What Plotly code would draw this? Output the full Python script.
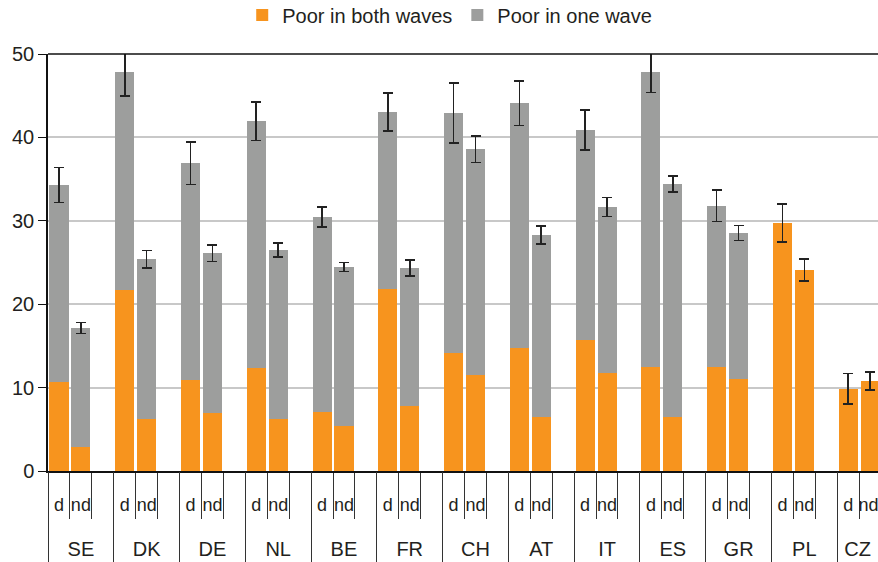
import plotly.graph_objects as go

countries = ["SE", "DK", "DE", "NL", "BE", "FR", "CH", "AT", "IT", "ES", "GR", "PL", "CZ"]
groups = ["d", "nd"]

# Poor in both waves (orange)
both_d = [10.7, 21.75, 10.95, 12.4, 7.05, 21.8, 14.1, 14.8, 15.7, 12.5, 12.5, 29.75, 9.85]
both_nd = [2.9, 6.2, 6.9, 6.2, 5.45, 7.85, 11.5, 6.45, 11.75, 6.45, 11.0, 24.1, 10.8]
# Poor in one wave (grey, stacked on top)
one_d = [23.6, 26.05, 25.95, 29.55, 23.4, 21.25, 28.8, 29.3, 25.2, 35.3, 19.3, 0.0, 0.0]
one_nd = [14.25, 19.2, 19.2, 20.3, 19.0, 16.5, 27.1, 21.85, 19.9, 27.95, 17.55, 0.0, 0.0]
# error half-widths on total
err_d = [2.1, 2.8, 2.55, 2.3, 1.2, 2.3, 3.6, 2.65, 2.4, 2.4, 1.9, 2.3, 1.85]
err_nd = [0.65, 1.05, 1.0, 0.85, 0.55, 0.95, 1.6, 1.1, 1.15, 0.95, 0.9, 1.35, 1.1]

y_ticks = [0, 10, 20, 30, 40, 50]

ORANGE = "#F7941E"
GREY = "#9D9E9D"
FONT = "Liberation Sans, Arial, sans-serif"
TXT = "#231F20"

xr = [-0.5, 37.36]

def visible_center(a, b):
    return (max(a, xr[0]) + min(b, xr[1])) / 2

# slot layout: each country takes 3 slots (d, nd, gap)
xs, both, one, errs, lbl_vals, lbl_text = [], [], [], [], [], []
for k, c in enumerate(countries):
    for j, (b, o, e) in enumerate([(both_d[k], one_d[k], err_d[k]), (both_nd[k], one_nd[k], err_nd[k])]):
        xs.append(3 * k + j)
        both.append(b)
        one.append(o)
        errs.append(e)
        lbl_vals.append(visible_center(3 * k + j - 0.5, 3 * k + j + 0.5))
        lbl_text.append(groups[j])

slot_bounds = [3 * k + s - 0.5 for k in range(len(countries)) for s in range(3)]
country_bounds = [3 * k - 0.5 for k in range(len(countries) + 1)]
# country label centred on the visible part of its span
country_centers = [visible_center(3 * k - 0.5, 3 * k + 2.5) for k in range(len(countries))]

fig = go.Figure()
fig.add_trace(go.Bar(x=xs, y=both, name="Poor in both waves", marker=dict(color=ORANGE, line_width=0),
                     width=0.87))
fig.add_trace(go.Bar(x=xs, y=one, name="Poor in one wave", marker=dict(color=GREY, line_width=0),
                     width=0.87,
                     error_y=dict(type="data", array=errs, visible=True, color="#222", thickness=1.6, width=5)))

fig.update_layout(
    barmode="stack",
    width=878, height=562,
    margin=dict(l=48, r=0, t=54, b=91, autoexpand=False),
    plot_bgcolor="white", paper_bgcolor="white",
    font=dict(family=FONT, color=TXT, size=19),
    legend=dict(orientation="h", x=0.234, xanchor="left", y=1.14, yanchor="top",
                font=dict(size=20, family=FONT, color=TXT), bgcolor="rgba(0,0,0,0)",
                traceorder="normal"),
    showlegend=True,
    xaxis=dict(range=xr, tickmode="array", tickvals=slot_bounds, ticks="outside", ticklen=46,
               tickcolor="#333", tickwidth=1, showticklabels=False, showgrid=False, zeroline=False,
               showline=True, linecolor="#111", linewidth=1.5),
    xaxis2=dict(overlaying="x", anchor="y", side="bottom", range=xr, tickmode="array",
                tickvals=country_bounds, ticks="outside", ticklen=95, tickcolor="#333", tickwidth=1,
                showticklabels=False, showgrid=False, zeroline=False, showline=False),
    xaxis3=dict(overlaying="x", anchor="y", side="bottom", range=xr, tickmode="array",
                tickvals=lbl_vals, ticktext=lbl_text, ticks="outside", ticklen=17,
                tickcolor="rgba(0,0,0,0)", tickfont=dict(size=18, family=FONT, color=TXT),
                ticklabeloverflow="allow",
                showgrid=False, zeroline=False, showline=False),
    xaxis4=dict(overlaying="x", anchor="y", side="bottom", range=xr, tickmode="array",
                tickvals=country_centers, ticktext=countries, ticks="outside", ticklen=60,
                tickcolor="rgba(0,0,0,0)", tickfont=dict(size=20, family=FONT, color=TXT),
                ticklabeloverflow="allow",
                showgrid=False, zeroline=False, showline=False),
    yaxis=dict(range=[0, 50], tickmode="array", tickvals=y_ticks, ticks="outside", ticklen=8,
               tickcolor="#111", tickwidth=1.2, showgrid=True, gridcolor="#C8C8C8", gridwidth=1.5,
               zeroline=False, showline=True, linecolor="#111", linewidth=1.5,
               tickfont=dict(size=20, family=FONT, color=TXT)),
    shapes=[dict(type="line", xref="paper", yref="paper", x0=0, x1=1, y0=1, y1=1,
                 line=dict(color="#111", width=1.5))],
)
# invisible helper traces so overlay axes render
for ax in ["x2", "x3", "x4"]:
    fig.add_trace(go.Scatter(x=[xr[0]], y=[0], xaxis=ax, yaxis="y", mode="markers",
                             marker=dict(opacity=0), showlegend=False, hoverinfo="skip"))

fig.write_html("out.html", config={"displayModeBar": False},
               post_script="document.body.style.margin='0';document.body.style.overflow='hidden';")
